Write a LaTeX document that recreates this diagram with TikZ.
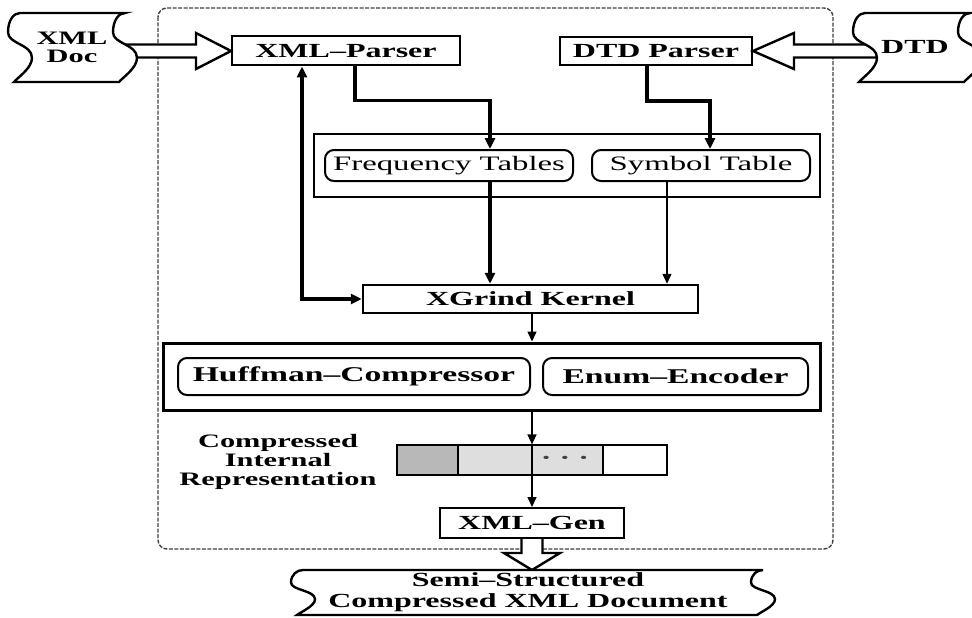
\documentclass[tikz,border=0pt]{standalone}
\usepackage{fontspec}
\setmainfont{Liberation Serif}[FakeStretch=1.6]
\usetikzlibrary{arrows.meta,calc}
\newcommand\tapepath[4]{%
 (#1,#3) -- (#2,#3)
 .. controls (#2-6,#3) and (#2-12,#3+0.10*#4) .. (#2-12,#3+0.28*#4)
 .. controls (#2-12,#3+0.45*#4) and (#2+12,#3+0.45*#4) .. (#2+12,#3+0.65*#4)
 .. controls (#2+12,#3+0.8*#4) and (#2-2,#3+0.93*#4) .. (#2-6,#3+#4)
 -- (#1-6,#3+#4)
 .. controls (#1-2,#3+0.93*#4) and (#1+12,#3+0.8*#4) .. (#1+12,#3+0.65*#4)
 .. controls (#1+12,#3+0.45*#4) and (#1-12,#3+0.45*#4) .. (#1-12,#3+0.28*#4)
 .. controls (#1-12,#3+0.10*#4) and (#1-6,#3) .. (#1,#3) -- cycle}
\begin{document}
\begin{tikzpicture}[x=1pt,y=-1pt,
  lab/.style={font=\fontsize{20}{17.5}\selectfont\bfseries, inner sep=0pt},
  boxA/.style={draw, line width=2pt, fill=white, inner sep=0pt, font=\fontsize{20}{18}\selectfont\bfseries},
  contA/.style={draw, line width=2.5pt, inner sep=0pt},
  rboxA/.style={draw, line width=2pt, rounded corners=9pt, inner sep=0pt, fill=white},
  cellA/.style={draw, line width=1.2pt, inner sep=0pt, minimum height=30pt},
  thickcon/.style={line width=3.5pt, -{Triangle[length=11pt,width=10pt]}},
  thincon/.style={line width=1.5pt, -{Triangle[length=10pt,width=9pt]}},
  hollowarr/.style={draw, line width=2.4pt, fill=white, line join=miter},
  tapeA/.style={draw, line width=2.4pt, fill=white},
  frameA/.style={draw=black!75, line width=1.4pt, dash pattern=on 4pt off 1.5pt, rounded corners=9pt}
]
\useasboundingbox (0,0) rectangle (972,618);

% outer dashed frame
\draw[frameA] (158,8) rectangle (833,549);

% boxes
\node[boxA, minimum width=228pt, minimum height=29pt] (xp) at (346,51) {XML–Parser};
\node[boxA, minimum width=192pt, minimum height=28pt] (dp) at (656,51) {DTD Parser};
\node[contA, minimum width=506pt, minimum height=63pt] (ftc) at (567,165.5) {};
\node[rboxA, minimum width=248pt, minimum height=31pt, font=\fontsize{20.5}{18}\selectfont] (ft) at (449,165.5) {Frequency Tables};
\node[rboxA, minimum width=218pt, minimum height=31pt, font=\fontsize{20.5}{18}\selectfont] (st) at (701,165.5) {Symbol Table};
\node[boxA, line width=2.5pt, minimum width=335pt, minimum height=28pt] (xg) at (530.5,299) {XGrind Kernel};
\node[contA, line width=3pt, minimum width=657pt, minimum height=67pt] (hc) at (491.5,376.5) {};
\node[rboxA, minimum width=352pt, minimum height=37pt, font=\fontsize{21}{18}\selectfont\bfseries] (hf) at (354,376.5) {Huffman–Compressor};
\node[rboxA, minimum width=265pt, minimum height=37pt, font=\fontsize{21}{18}\selectfont\bfseries] (en) at (675.5,376.5) {Enum–Encoder};
\node[cellA, fill=black!28, minimum width=61pt] (c1) at (427.5,460) {};
\node[cellA, fill=black!13, minimum width=145pt] (c2) at (530.5,460) {};
\node[cellA, fill=white, minimum width=64pt] (c3) at (635,460) {};
\node[inner sep=0pt, text=black!75, font=\fontsize{20}{18}\selectfont\bfseries] (dots) at (565,460) {· · ·};
\node[lab, align=center, font=\fontsize{19}{19}\selectfont\bfseries] (cir) at (278,462) {Compressed\\Internal\\Representation};
\node[boxA, minimum width=184pt, minimum height=30pt] (gen) at (532,523) {XML–Gen};

% hollow arrows
\coordinate (xdR) at (105,51);
\draw[hollowarr] ($(xdR)+(0,-6.5)$) -- ($(xp.west)+(-35,-6.5)$) -- ($(xp.west)+(-35,-18)$) -- (xp.west) -- ($(xp.west)+(-35,18)$) -- ($(xp.west)+(-35,6.5)$) -- ($(xdR)+(0,6.5)$);
\coordinate (dtL) at (890,51);
\draw[hollowarr] ($(dtL)+(0,-6.5)$) -- ($(dp.east)+(41,-6.5)$) -- ($(dp.east)+(41,-18)$) -- (dp.east) -- ($(dp.east)+(41,18)$) -- ($(dp.east)+(41,6.5)$) -- ($(dtL)+(0,6.5)$);
\coordinate (sxT) at (532,570);
\draw[hollowarr] ($(gen.south)+(-10.5,0)$) -- ($(sxT)+(-10.5,-17)$) -- ($(sxT)+(-28,-17)$) -- (sxT) -- ($(sxT)+(28,-17)$) -- ($(sxT)+(10.5,-17)$) -- ($(gen.south)+(10.5,0)$);

% tapes
\draw[tapeA] \tapepath{20}{125}{13}{69};
\draw[tapeA] \tapepath{865}{970}{13}{69};
\draw[tapeA] \tapepath{303}{763}{570}{45};
\node[lab, align=center, font=\fontsize{19}{18}\selectfont\bfseries] (xd) at (72,47) {XML\\Doc};
\node[lab] (dtd) at (915,47) {DTD};
\node[lab, align=center, font=\fontsize{20}{21}\selectfont\bfseries] (sx) at (528,592) {Semi–Structured\\Compressed XML Document};

% connectors
\coordinate (p1) at ($(xp.south)+(9,0)$);
\draw[thickcon] (p1) -- ++(0,34) -| ($(ft.north)+(41,0)$);
\coordinate (p2) at ($(dp.south)+(-9,0)$);
\draw[thickcon] (p2) -- ++(0,35) -| ($(st.north)+(9,0)$);
\coordinate (p3) at ($(ft.south)+(41,0)$);
\draw[thickcon] (p3) -- (p3 |- xg.north);
\coordinate (p4) at ($(st.south)+(-34,0)$);
\draw[thincon] (p4) -- (p4 |- xg.north);
\coordinate (p5) at ($(xp.south)+(-44,0)$);
\draw[thickcon, {Triangle[length=11pt,width=10pt]}-{Triangle[length=11pt,width=10pt]}] (p5) |- (xg.west);
\draw[thincon] (xg.south -| gen.north) -- (hc.north -| gen.north);
\draw[thincon] (hc.south -| gen.north) -- (c2.north -| gen.north);
\draw[thincon] (c2.north -| gen.north) -- (gen.north);
\end{tikzpicture}
\end{document}
